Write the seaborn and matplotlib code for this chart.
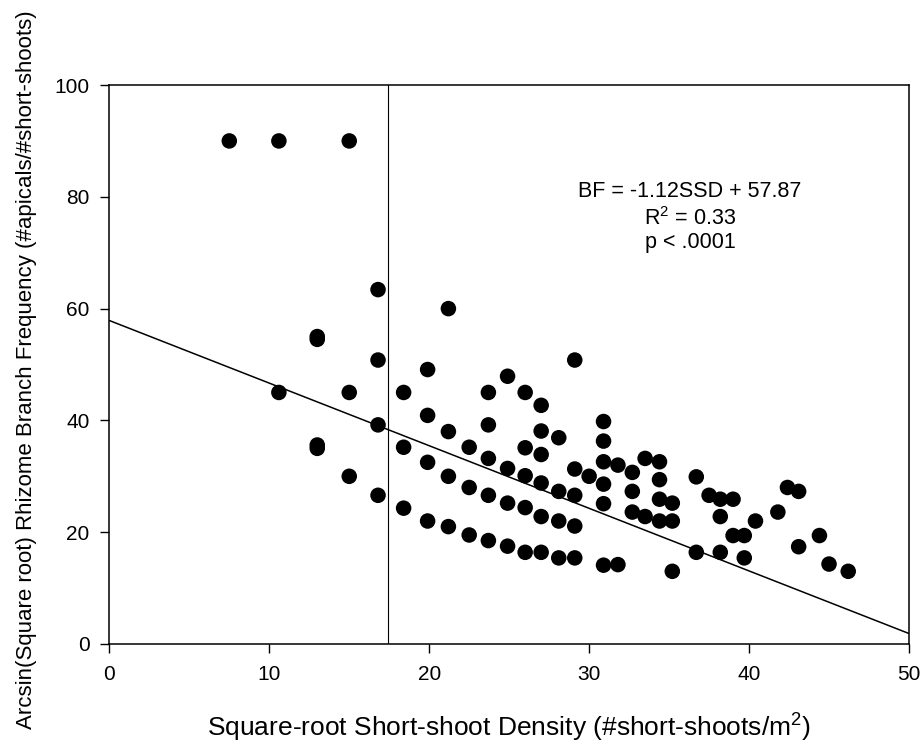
import matplotlib
matplotlib.use("Agg")
import matplotlib.pyplot as plt
import seaborn as sns
import pandas as pd

# Square-root short-shoot density (x) and arcsin-transformed branch frequency (y)
ssd = [
    7.5,
    10.6, 10.6,
    13.0, 13.0, 13.0, 13.0,
    15.0, 15.0, 15.0,
    16.8, 16.8, 16.8, 16.8,
    18.4, 18.4, 18.4,
    19.9, 19.9, 19.9, 19.9,
    21.2, 21.2, 21.2, 21.2,
    22.5, 22.5, 22.5,
    23.7, 23.7, 23.7, 23.7, 23.7,
    24.9, 24.9, 24.9, 24.9,
    26.0, 26.0, 26.0, 26.0, 26.0,
    27.0, 27.0, 27.0, 27.0, 27.0, 27.0,
    28.1, 28.1, 28.1, 28.1,
    29.1, 29.1, 29.1, 29.1, 29.1,
    30.0,
    30.9, 30.9, 30.9, 30.9, 30.9, 30.9,
    31.8, 31.8,
    32.7, 32.7, 32.7,
    33.5, 33.5,
    34.4, 34.4, 34.4, 34.4,
    35.2, 35.2, 35.2,
    36.7, 36.7,
    37.5,
    38.2, 38.2, 38.2,
    39.0, 39.0,
    39.7, 39.7,
    40.4,
    41.8,
    42.4,
    43.1, 43.1,
    44.4,
    45.0,
    46.2,
]
bf = [
    90.0,
    90.0, 45.0,
    55.0, 54.5, 35.6, 35.0,
    90.0, 45.0, 30.0,
    63.4, 50.8, 39.2, 26.6,
    45.0, 35.2, 24.3,
    49.1, 40.9, 32.5, 22.0,
    60.0, 38.0, 30.0, 21.0,
    35.2, 28.0, 19.5,
    45.0, 39.2, 33.2, 26.6, 18.5,
    47.9, 31.4, 25.2, 17.5,
    45.0, 35.1, 30.1, 24.4, 16.4,
    42.7, 38.1, 33.9, 28.8, 22.8, 16.4,
    36.9, 27.3, 22.0, 15.4,
    50.8, 31.3, 26.6, 21.1, 15.4,
    30.0,
    39.8, 36.3, 32.6, 28.6, 25.1, 14.1,
    32.0, 14.2,
    30.7, 27.3, 23.6,
    33.2, 22.8,
    32.6, 29.4, 25.9, 22.0,
    25.2, 22.0, 13.0,
    29.9, 16.4,
    26.6,
    25.9, 22.8, 16.4,
    25.9, 19.4,
    19.4, 15.4,
    22.0,
    23.6,
    28.0,
    27.3, 17.4,
    19.4,
    14.3,
    13.0,
]

# Fitted regression: BF = slope * SSD + intercept
slope = -1.12
intercept = 57.87
r_squared = 0.33
cutoff_ssd = 17.45

x_ticks = [0, 10, 20, 30, 40, 50]
y_ticks = [0, 20, 40, 60, 80, 100]

sns.set_style("white")
plt.rcParams["font.family"] = ["Liberation Sans", "DejaVu Sans"]
plt.rcParams["mathtext.fontset"] = "custom"
plt.rcParams["mathtext.rm"] = "Liberation Sans"
plt.rcParams["mathtext.it"] = "Liberation Sans:italic"
plt.rcParams["text.color"] = "black"
plt.rcParams["axes.labelcolor"] = "black"
plt.rcParams["xtick.color"] = "black"
plt.rcParams["ytick.color"] = "black"

df = pd.DataFrame({"ssd": ssd, "bf": bf})
fit = pd.DataFrame({"ssd": [0, 50]})
fit["bf"] = slope * fit["ssd"] + intercept

fig = plt.figure(figsize=(9.22, 7.42), dpi=100)
ax = fig.add_axes([0.1186, 0.1321, 0.8673, 0.7533])

sns.lineplot(data=fit, x="ssd", y="bf", ax=ax, color="black", linewidth=1.1)
ax.axvline(cutoff_ssd, color="black", linewidth=0.8)
sns.scatterplot(data=df, x="ssd", y="bf", ax=ax, color="black", s=125,
                edgecolor="none", linewidth=0, zorder=3)

ax.set_xlim(0, 50)
ax.set_ylim(0, 100)
ax.set_xticks(x_ticks)
ax.set_yticks(y_ticks)
ax.tick_params(axis="both", direction="out", length=6.3, width=1.0,
               labelsize=15, colors="black")
ax.tick_params(axis="x", pad=9.0)
ax.tick_params(axis="y", pad=8)
ax.xaxis.set_ticks_position("bottom")
ax.yaxis.set_ticks_position("left")
for sp in ax.spines.values():
    sp.set_visible(True)
    sp.set_color("black")
    sp.set_linewidth(1.1)

ax.set_xlabel("Square-root Short-shoot Density (#short-shoots/m$^2$)",
              fontsize=19, color="black")
ax.set_ylabel("Arcsin(Square root) Rhizome Branch Frequency (#apicals/#short-shoots)",
              fontsize=16, color="black")
ax.xaxis.set_label_coords(0.5, -0.121)
ax.yaxis.set_label_coords(-0.091, 0.49)

# Regression statistics, one line each
stats_x = 36.3
ax.text(stats_x, 80.0, f"BF = {slope:.2f}SSD + {intercept:.2f}",
        ha="center", va="baseline", fontsize=15.5, color="black")
ax.text(stats_x, 75.0, f"R$^2$ = {r_squared:.2f}",
        ha="center", va="baseline", fontsize=15.5, color="black")
ax.text(stats_x, 70.8, "p < .0001",
        ha="center", va="baseline", fontsize=15.5, color="black")

fig.savefig("out.png", dpi=100)
